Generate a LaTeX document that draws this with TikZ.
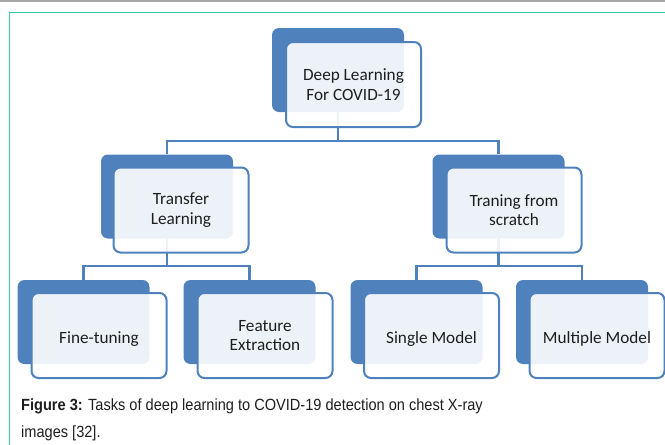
\documentclass[tikz,border=0pt]{standalone}
\usepackage{fontspec}
\setmainfont{Carlito}
\newfontfamily\capfont[FakeStretch=0.9]{Liberation Sans}
\definecolor{sablue}{HTML}{4F81BD}
\definecolor{txt}{HTML}{1E1E1E}
\definecolor{frame}{HTML}{3CC8A8}
\tikzset{
  backbox/.style={fill=sablue, draw=none, rounded corners=7pt, minimum width=132pt, minimum height=84pt, inner sep=0pt},
  frontbox/.style={draw=sablue, line width=2pt, fill=white, fill opacity=0.9, text opacity=1, text=txt,
    rounded corners=7pt, minimum width=135pt, minimum height=85pt, inner sep=0pt, align=center,
    font=\fontsize{17.2}{19.5}\selectfont},
  oneline/.style={text height=15pt, text depth=0pt},
  link/.style={draw=sablue, line width=2.2pt}
}
\begin{document}
\begin{tikzpicture}[x=1pt,y=-1pt]
\useasboundingbox (0,0) rectangle (665,445);
% page remnants
\draw[gray!70, line width=1.2pt] (0,1) -- (665,1);
\foreach \xx in {7,59,185,380,565} \draw[gray!70, line width=0.8pt] (\xx,0) -- (\xx,1.5);
\draw[frame, line width=1.5pt] (9.5,460) -- (9.5,12.5) -- (680,12.5);
% back boxes
\node[backbox] (rootb) at (338,70) {};
\node[backbox] (tlb) at (167,196.5) {};
\node[backbox] (trb) at (498.5,196.5) {};
\node[backbox] (ftb) at (83.5,322) {};
\node[backbox] (feb) at (249.5,322) {};
\node[backbox] (smb) at (416.5,322) {};
\node[backbox] (mmb) at (582,322) {};
% connectors
\coordinate (bus1) at (338,141);
\coordinate (bus2) at (167,266);
\coordinate (bus3) at (498.5,266);
\draw[link] (rootb.south) -- (bus1);
\draw[link] (tlb.north) |- (bus1) -| (trb.north);
\draw[link] (tlb.south) -- (bus2);
\draw[link] (ftb.north) |- (bus2) -| (feb.north);
\draw[link] (trb.south) -- (bus3);
\draw[link] (smb.north) |- (bus3) -| (mmb.north);
% front boxes
\node[frontbox] (root) at (353.5,84.5) {Deep Learning\\For COVID-19};
\node[frontbox] (tl) at (181,210) {Transfer\\Learning};
\node[frontbox] (tr) at (514,210) {Traning from\\scratch};
\node[frontbox, oneline] (ft) at (99,335.5) {Fine-tuning};
\node[frontbox] (fe) at (265,335.5) {Feature\\Extraction};
\node[frontbox, oneline] (sm) at (431.5,335.5) {Single Model};
\node[frontbox, oneline] (mm) at (597,335.5) {Multiple Model};
% caption
\node[anchor=base west, inner sep=0pt, align=left, text=txt, font=\capfont\fontsize{16.2}{27}\selectfont] (cap) at (21,437)
  {\textbf{Figure 3:} Tasks of deep learning to COVID-19 detection on chest X-ray\\images [32].};
\end{tikzpicture}
\end{document}
